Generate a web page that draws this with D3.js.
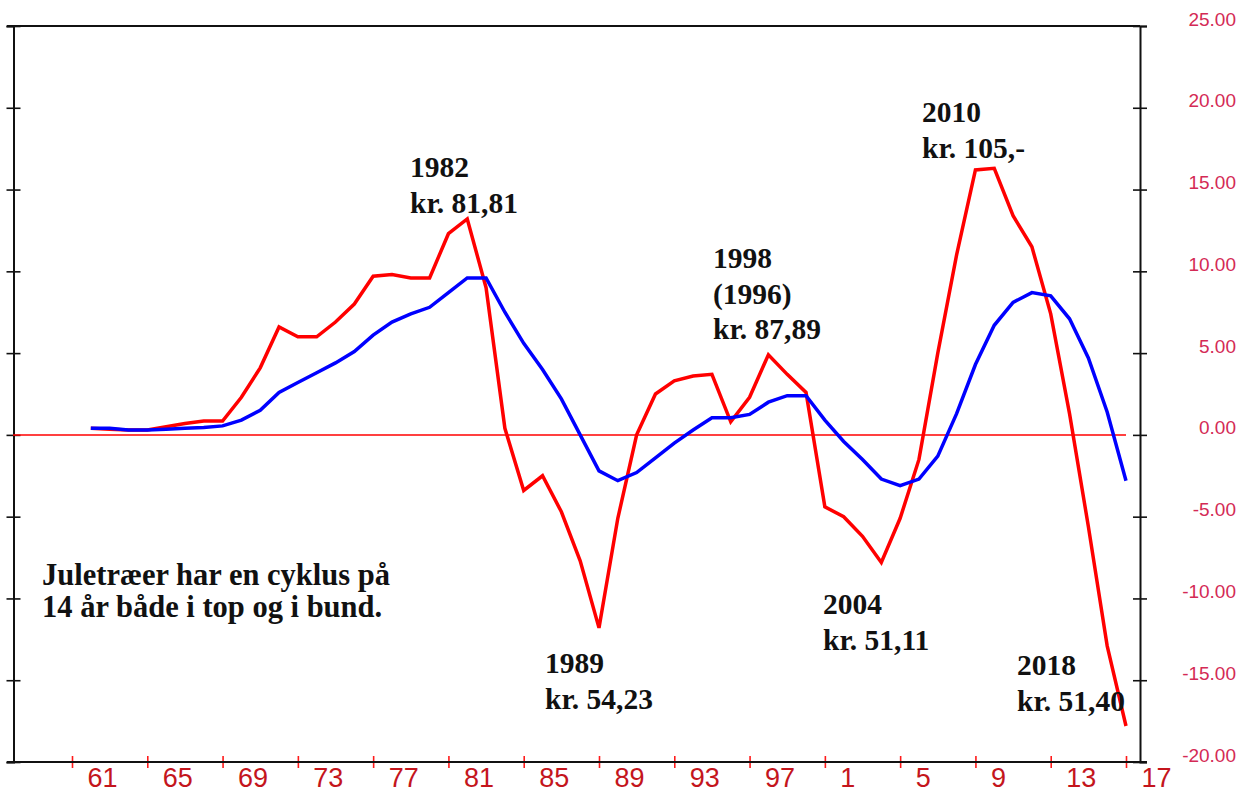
<html>
<head>
<meta charset="utf-8">
<script src="https://d3js.org/d3.v7.min.js"></script>
<style>
  body { margin: 0; background: #fff; }
  .note { font-family: "Liberation Serif", "Times New Roman", serif; font-weight: bold; font-size: 29.5px; fill: #111; }
</style>
</head>
<body>
<svg width="1242" height="793"></svg>
<script>
// years on the x axis (one point per year)
var years = d3.range(1962, 2018);

// yearly price change (red)
var change = [0.4, 0.35, 0.3, 0.3, 0.5, 0.7, 0.85, 0.85, 2.3, 4.1,
              6.6, 6.0, 6.0, 6.9, 8.0, 9.7, 9.8, 9.6, 9.6, 12.3,
              13.2, 9.0, 0.4, -3.4, -2.5, -4.7, -7.7, -11.8, -5.1, 0.0,
              2.5, 3.3, 3.6, 3.7, 0.8, 2.3, 4.9, 3.7, 2.6, -4.4,
              -5.0, -6.2, -7.8, -5.1, -1.5, 5.0, 11.0, 16.2, 16.3, 13.4,
              11.5, 7.4, 1.3, -5.6, -12.9, -17.8];

// smoothed trend (blue)
var trend = [0.4, 0.4, 0.3, 0.3, 0.35, 0.4, 0.45, 0.55, 0.9, 1.5,
             2.6, 3.2, 3.8, 4.4, 5.1, 6.1, 6.9, 7.4, 7.8, 8.7,
             9.6, 9.6, 7.5, 5.6, 4.0, 2.2, 0.0, -2.2, -2.8, -2.3,
             -1.4, -0.5, 0.3, 1.05, 1.05, 1.25, 2.0, 2.4, 2.4, 0.9,
             -0.4, -1.5, -2.7, -3.1, -2.7, -1.3, 1.3, 4.3, 6.7, 8.1,
             8.7, 8.5, 7.1, 4.7, 1.4, -2.8];

// axis ticks
var xTickYears = d3.range(1961, 2018, 4);
var xTickLabels = ["61", "65", "69", "73", "77", "81", "85", "89", "93", "97", "1", "5", "9", "13", "17"];
var yTicks = [-20, -15, -10, -5, 0, 5, 10, 15, 20, 25];

// text notes
var notes = [
  { x: 410, y: 177, lines: ["1982", "kr. 81,81"] },
  { x: 545, y: 673, lines: ["1989", "kr. 54,23"] },
  { x: 713, y: 268, lines: ["1998", "(1996)", "kr. 87,89"] },
  { x: 823, y: 614, lines: ["2004", "kr. 51,11"] },
  { x: 922, y: 122, lines: ["2010", "kr. 105,-"] },
  { x: 1017, y: 675, lines: ["2018", "kr. 51,40"] }
];

var svg = d3.select("svg");
var x = d3.scaleLinear().domain([1961, 2017]).range([72, 1126]);
var y = d3.scaleLinear().domain([-20, 25]).range([762, 26]);

// frame: top line
svg.append("line").attr("x1", 7).attr("x2", 1140).attr("y1", y(25)).attr("y2", y(25))
  .attr("stroke", "#111").attr("stroke-width", 2);

// left axis, ticks crossing the line, no labels
var left = svg.append("g").attr("transform", "translate(13.5,0)")
  .call(d3.axisLeft(y).tickValues(yTicks).tickSize(7).tickFormat(""));
left.select(".domain").attr("stroke", "#111").attr("stroke-width", 2);
left.selectAll(".tick line").attr("x1", 7).attr("stroke", "#111").attr("stroke-width", 1.6);

// right axis with labels (plain hyphen for negatives)
var right = svg.append("g").attr("transform", "translate(1140,0)")
  .call(d3.axisRight(y).tickValues(yTicks).tickSize(7)
    .tickFormat(function(d) { return d.toFixed(2); }));
right.select(".domain").attr("stroke", "#111").attr("stroke-width", 2);
right.selectAll(".tick line").attr("x1", -7).attr("stroke", "#111").attr("stroke-width", 1.6);
right.selectAll(".tick text").attr("x", 96).attr("y", -7).attr("text-anchor", "end")
  .attr("fill", "#d42a55").style("font-family", "'Liberation Sans', Arial, sans-serif").style("font-size", "19px");

// bottom axis, red ticks, labels to the right of each tick
var bottom = svg.append("g").attr("transform", "translate(0,762)")
  .call(d3.axisBottom(x).tickValues(xTickYears).tickSize(6)
    .tickFormat(function(d, i) { return xTickLabels[i]; }));
bottom.select(".domain").remove();
bottom.selectAll(".tick line").attr("y1", -6).attr("stroke", "#ff1a1a").attr("stroke-width", 1.6);
bottom.selectAll(".tick text").attr("x", 15).attr("y", 25).attr("dy", 0).attr("text-anchor", "start")
  .attr("fill", "#c4151c").style("font-family", "'Liberation Sans', Arial, sans-serif").style("font-size", "27px");
svg.append("line").attr("x1", 7).attr("x2", 1147).attr("y1", 762).attr("y2", 762)
  .attr("stroke", "#111").attr("stroke-width", 2);

// zero line
svg.append("line").attr("x1", 13).attr("x2", x(2017)).attr("y1", y(0)).attr("y2", y(0))
  .attr("stroke", "#ff0000").attr("stroke-width", 1.5);

var line = d3.line().x(function(d, i) { return x(years[i]); }).y(function(d) { return y(d); });

svg.append("path").datum(change).attr("d", line)
  .attr("fill", "none").attr("stroke", "#ff0000").attr("stroke-width", 3.5);
svg.append("path").datum(trend).attr("d", line)
  .attr("fill", "none").attr("stroke", "#0000ff").attr("stroke-width", 3.5);

// notes
notes.forEach(function(n) {
  var t = svg.append("text").attr("class", "note").attr("x", n.x).attr("y", n.y);
  n.lines.forEach(function(s, i) {
    t.append("tspan").attr("x", n.x).attr("dy", i === 0 ? 0 : 35.5).text(s);
  });
});

var cyc = svg.append("text").attr("class", "note").style("font-size", "30.5px")
  .attr("x", 42).attr("y", 585);
cyc.append("tspan").attr("x", 42).text("Juletræer har en cyklus på");
cyc.append("tspan").attr("x", 42).attr("dy", 32).text("14 år både i top og i bund.");
</script>
</body>
</html>
